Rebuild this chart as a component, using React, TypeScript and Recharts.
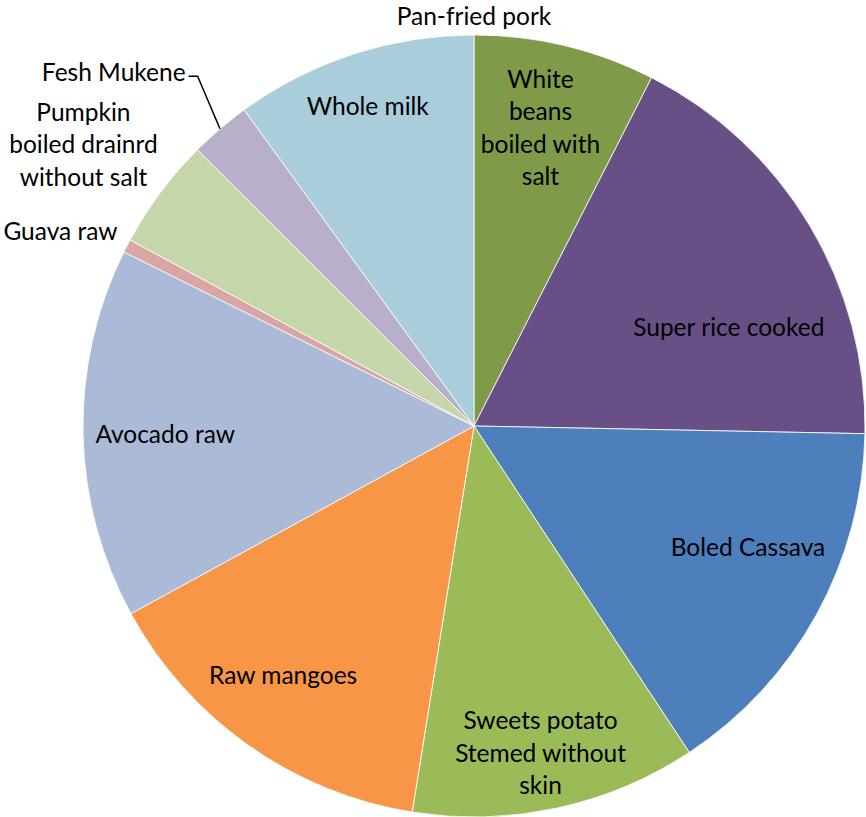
import { Pie, PieChart, Cell } from 'recharts';

// Part de chaque aliment (degrés ramenés en %).
const FOODS: string[] = [
  'Pan-fried pork',
  'White beans boiled with salt',
  'Super rice cooked',
  'Boled Cassava',
  'Sweets potato Stemed without skin',
  'Raw mangoes',
  'Avocado raw',
  'Guava raw',
  'Pumpkin boiled drainrd without salt',
  'Fesh Mukene',
  'Whole milk',
];

const SHARES: number[] = [0, 7.5, 17.8, 15.4, 11.8, 14.5, 15.3, 0.55, 4.6, 2.5, 10.0];

const COLORS: string[] = [
  '#7F9A48',
  '#7F9A48',
  '#684F86',
  '#4C7FBC',
  '#9BBB59',
  '#F79646',
  '#AABAD7',
  '#D9A5A5',
  '#C5D6AB',
  '#B8AFC9',
  '#A9CDDB',
];

// Retours à la ligne des étiquettes, comme dans l'original.
const LABEL_LINES: string[][] = [
  ['Pan-fried pork'],
  ['White', 'beans', 'boiled with', 'salt'],
  ['Super rice cooked'],
  ['Boled Cassava'],
  ['Sweets potato', 'Stemed without', 'skin'],
  ['Raw mangoes'],
  ['Avocado raw'],
  ['Guava raw'],
  ['Pumpkin', 'boiled drainrd', 'without salt'],
  ['Fesh Mukene'],
  ['Whole milk'],
];

// Placement : décalage angulaire (degrés, sens horaire) et rayon relatif.
const LAYOUT: Record<string, { da: number; rf: number }> = {
  'Pan-fried pork': { da: 0, rf: 1.05 },
  'White beans boiled with salt': { da: -1, rf: 0.785 },
  'Super rice cooked': { da: 9.5, rf: 0.7 },
  'Boled Cassava': { da: -5.2, rf: 0.765 },
  'Sweets potato Stemed without skin': { da: 0.6, rf: 0.85 },
  'Raw mangoes': { da: 2.4, rf: 0.8 },
  'Avocado raw': { da: -0.2, rf: 0.79 },
  'Guava raw': { da: -2.1, rf: 1.17 },
  'Pumpkin boiled drainrd without salt': { da: -0.8, rf: 1.233 },
  'Whole milk': { da: -0.3, rf: 0.865 },
};

const data = FOODS.map((name, i) => ({ name, value: SHARES[i] }));

const RAD = Math.PI / 180;
const FONT = 'Lato, "Open Sans", sans-serif';
const FS = 24.5;
const LH = 32.5;

function point(cx: number, cy: number, r: number, clockDeg: number) {
  return { x: cx + r * Math.sin(clockDeg * RAD), y: cy - r * Math.cos(clockDeg * RAD) };
}

function renderLabel(props: any) {
  const { cx, cy, midAngle, outerRadius, index } = props;
  const name = FOODS[index];
  const lines = LABEL_LINES[index];
  const clock = 90 - midAngle;

  if (name === 'Fesh Mukene') {
    const edge = point(cx, cy, outerRadius, clock);
    const elbow = point(cx, cy, outerRadius * 1.14, clock + 2.2);
    const tx = elbow.x - 12;
    return (
      <g>
        <path d={`M${edge.x},${edge.y} L${elbow.x},${elbow.y} L${elbow.x - 9},${elbow.y}`} stroke="#000" strokeWidth={1.5} fill="none" />
        <text x={tx} y={elbow.y - 5} fontFamily={FONT} fontSize={FS} fill="#000" textAnchor="end" dominantBaseline="central">
          {lines[0]}
        </text>
      </g>
    );
  }

  const lay = LAYOUT[name] ?? { da: 0, rf: 0.78 };
  const p = point(cx, cy, outerRadius * lay.rf, clock + lay.da);
  const top = p.y - ((lines.length - 1) * LH) / 2;
  return (
    <text x={p.x} y={top} fontFamily={FONT} fontSize={FS} fill="#000" textAnchor="middle" dominantBaseline="central">
      {lines.map((l, k) => (
        <tspan key={k} x={p.x} y={top + k * LH}>
          {l}
        </tspan>
      ))}
    </text>
  );
}

export default function App() {
  return (
    <div style={{ position: 'absolute', left: 0, top: 0, width: 866, height: 817, background: '#fff' }}>
      <PieChart width={866} height={817} margin={{ top: 0, right: 0, bottom: 0, left: 0 }}>
        <Pie
          data={data}
          dataKey="value"
          nameKey="name"
          cx={474}
          cy={426}
          outerRadius={391}
          startAngle={90}
          endAngle={-270}
          stroke="#fff"
          strokeWidth={0.8}
          label={renderLabel}
          labelLine={false}
          isAnimationActive={false}
        >
          {data.map((d, i) => (
            <Cell key={d.name} fill={COLORS[i]} />
          ))}
        </Pie>
      </PieChart>
    </div>
  );
}
